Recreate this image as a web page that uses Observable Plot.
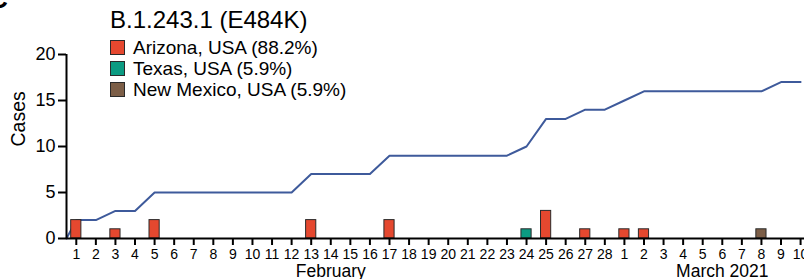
<!DOCTYPE html>
<html><head><meta charset="utf-8">
<script src="https://cdn.jsdelivr.net/npm/d3@7"></script>
<script src="https://cdn.jsdelivr.net/npm/@observablehq/plot@0.6"></script>
<style>
body{margin:0;background:#fff;font-family:"Liberation Sans",Arial,sans-serif;}
#wrap{position:relative;width:804px;height:279px;overflow:hidden;}
#wrap svg{position:absolute;left:0;top:0;}
.panel{position:absolute;left:-11px;top:-14px;font-size:26px;font-weight:bold;line-height:26px;}
.title{position:absolute;left:110px;top:8px;font-size:24px;line-height:24px;}
.legend{position:absolute;left:110px;top:37px;font-size:19px;}
.row{display:flex;align-items:center;height:21px;line-height:21px;}
.sw{width:13px;height:13px;border:1px solid #2a2a2a;margin-right:8px;}
</style></head>
<body>
<div id="wrap"></div>
<script>
// ---- data ----
const titleText = "B.1.243.1 (E484K)";
const panelLetter = "C";
const yLabel = "Cases";
const dayLabels = ["1","2","3","4","5","6","7","8","9","10","11","12","13","14","15","16","17","18","19","20","21","22","23","24","25","26","27","28",
                   "1","2","3","4","5","6","7","8","9","10"];
const cumulativeCases = [2,2,3,3,5,5,5,5,5,5,5,5,7,7,7,7,9,9,9,9,9,9,9,10,13,13,14,14,15,16,16,16,16,16,16,16,17,17,17];
// cumulative starts from 0 at the axis origin
const cumulativeStart = 0;
const regions = ["Arizona, USA (88.2%)", "Texas, USA (5.9%)", "New Mexico, USA (5.9%)"];
const regionColors = ["#e5482f", "#0b9b82", "#7c5e47"];
// per-region daily case counts: day index and cases
const arizonaDays = [0, 2, 4, 12, 16, 24, 26, 28, 29];
const arizonaCases = [2, 1, 2, 2, 2, 3, 1, 1, 1];
const texasDays = [23];
const texasCases = [1];
const newMexicoDays = [35];
const newMexicoCases = [1];
const monthNames = ["February", "March 2021"];
const monthCenterDay = [13, 33];
const yTicks = [0, 5, 10, 15, 20];

// ---- build ----
const xStart = -0.5, xEnd = 37.2;
const lineData = [{i: xStart, v: cumulativeStart}].concat(cumulativeCases.slice(0, dayLabels.length).map((v, i) => ({i, v})));
const bars = [];
[[arizonaDays, arizonaCases, regions[0]], [texasDays, texasCases, regions[1]], [newMexicoDays, newMexicoCases, regions[2]]]
  .forEach(([ds, cs, r]) => ds.forEach((d, k) => bars.push({i: d, n: cs[k], region: r})));
const months = monthNames.map((m, k) => ({label: m, i: monthCenterDay[k]}));
const font = '"Liberation Sans", Arial, sans-serif';

const plot = Plot.plot({
  width: 804, height: 279,
  marginLeft: 66, marginRight: 0, marginTop: 54, marginBottom: 41,
  style: {fontFamily: font, background: "transparent", overflow: "visible", color: "#000"},
  x: {domain: [xStart, xEnd], axis: null},
  y: {domain: [0, 20], axis: null},
  color: {domain: regions, range: regionColors},
  marks: [
    Plot.line(lineData, {x: "i", y: "v", stroke: "#3e5a9b", strokeWidth: 2}),
    Plot.rect(bars, {x1: d => d.i - 0.26, x2: d => d.i + 0.26, y1: 0, y2: "n", fill: "region", stroke: "#2a2a2a", strokeWidth: 1}),
    Plot.ruleY([0], {stroke: "#000", strokeWidth: 2}),
    Plot.ruleX([xStart], {y1: 0, y2: 20, stroke: "#000", strokeWidth: 2}),
    Plot.axisX({ticks: dayLabels.map((_, i) => i), tickFormat: i => dayLabels[i], tickSize: 7, tickPadding: 4, fontSize: 14, strokeWidth: 2, label: null}),
    Plot.axisY({ticks: yTicks, tickSize: 8, tickPadding: 3, fontSize: 18, strokeWidth: 2, label: null}),
    Plot.text([yLabel], {text: d => d, frameAnchor: "left", rotate: -90, dx: -48, fontSize: 19.5}),
    Plot.text(months, {x: "i", text: "label", frameAnchor: "bottom", dy: 33, lineAnchor: "middle", fontSize: 17.5})
  ]
});
// make sure the axis label sizes are applied
d3.select(plot).selectAll('g[aria-label="y-axis tick label"]').attr("font-size", 18).selectAll("text").style("font-size", "18px");
d3.select(plot).selectAll('g[aria-label="x-axis tick label"]').attr("font-size", 14).selectAll("text").style("font-size", "14px");
const wrap = document.getElementById("wrap");
wrap.appendChild(plot);

const p = document.createElement("div"); p.className = "panel"; p.textContent = panelLetter; wrap.appendChild(p);
const t = document.createElement("div"); t.className = "title"; t.textContent = titleText; wrap.appendChild(t);
const lg = document.createElement("div"); lg.className = "legend";
regions.forEach((r, k) => {
  const row = document.createElement("div"); row.className = "row";
  const sw = document.createElement("div"); sw.className = "sw"; sw.style.background = regionColors[k];
  const tx = document.createElement("span"); tx.textContent = r;
  row.appendChild(sw); row.appendChild(tx); lg.appendChild(row);
});
wrap.appendChild(lg);
</script>
</body></html>
